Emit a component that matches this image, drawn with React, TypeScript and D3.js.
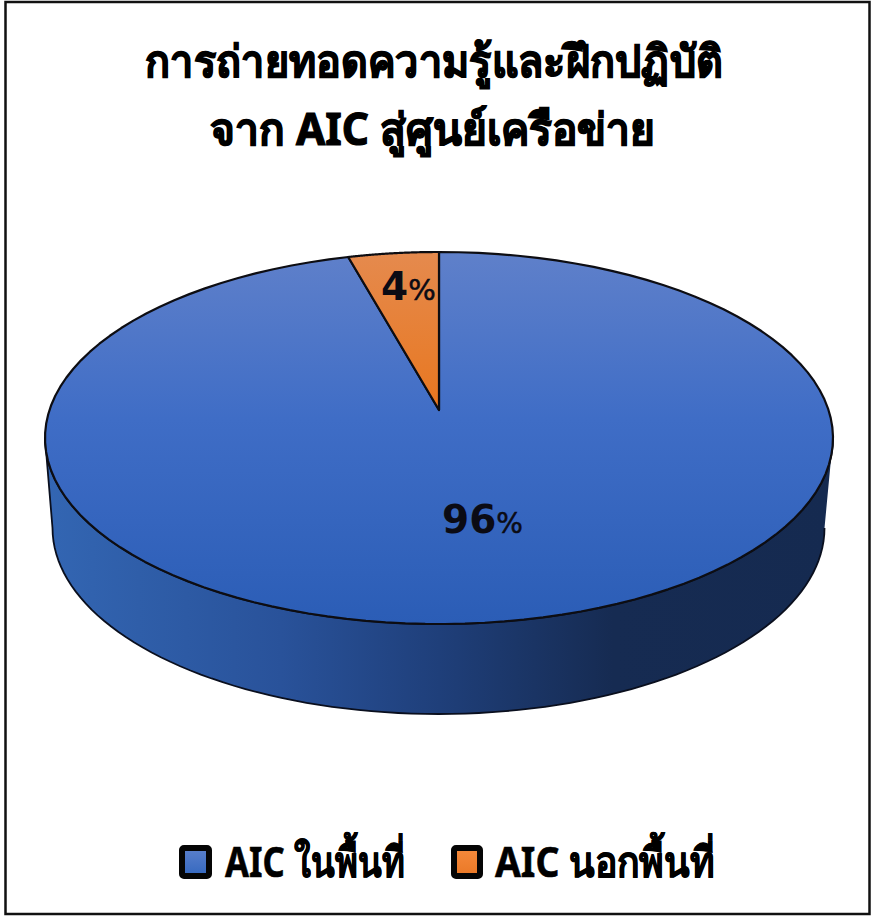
import React from "react";
import * as d3 from "d3";

const titleLines = ["การถ่ายทอดความรู้และฝึกปฏิบัติ", "จาก AIC สู่ศูนย์เครือข่าย"];
const categories = ["AIC ในพื้นที่", "AIC นอกพื้นที่"];
const values = [96.3, 3.7];
const fills = ["url(#blueTop)", "url(#orangeTop)"];
const swatches = ["url(#blueSwatch)", "url(#orangeSwatch)"];

const W = 871, H = 918;
const cx = 439, cy = 438, rx = 394, ry = 186;
const apex: [number, number] = [439, 410];
const depth = 90, bcx = 438.5, brx = 386;

const pt = (t: number, ccx = cx, ccy = cy, rrx = rx): [number, number] => [ccx + rrx * Math.sin(t), ccy - ry * Math.cos(t)];
const line = d3.line();
const arcPts = (a: number, b: number) => d3.range(0, 121).map((i) => pt(a + ((b - a) * i) / 120));

export default function App() {
  const arcs = d3.pie<number>().sort(null)(values);
  const sidePts = d3.range(-90, 90.5, 2).map((d) => pt((Math.PI * (180 - d)) / 180, bcx, cy + depth, brx));
  const topLower = d3.range(-90, 90.5, 2).map((d) => pt((Math.PI * (180 + d)) / 180));
  const side = line([...topLower, ...sidePts]);
  const labelPos: [number, number][] = [[442, 533], [381, 300]];
  return (
    <svg width={W} height={H} style={{ position: "absolute", left: 0, top: 0, background: "#fff" }}>
      <defs>
        <linearGradient id="blueTop" x1="0" y1="0" x2="0" y2="1">
          <stop offset="0" stopColor="#5f80ca" />
          <stop offset="0.45" stopColor="#3f6dc6" />
          <stop offset="1" stopColor="#2b5db6" />
        </linearGradient>
        <linearGradient id="orangeTop" x1="0" y1="0" x2="0" y2="1">
          <stop offset="0" stopColor="#e58a4e" />
          <stop offset="1" stopColor="#e8771f" />
        </linearGradient>
        <linearGradient id="sideGrad" x1="0" y1="0" x2="1" y2="0">
          <stop offset="0" stopColor="#3366b3" />
          <stop offset="0.3" stopColor="#29529a" />
          <stop offset="0.5" stopColor="#1f3f7a" />
          <stop offset="0.72" stopColor="#162b52" />
          <stop offset="1" stopColor="#152a50" />
        </linearGradient>
        <linearGradient id="blueSwatch" x1="0" y1="0" x2="0" y2="1">
          <stop offset="0" stopColor="#5b80cc" />
          <stop offset="1" stopColor="#3468bf" />
        </linearGradient>
        <linearGradient id="orangeSwatch" x1="0" y1="0" x2="0" y2="1">
          <stop offset="0" stopColor="#f58a3c" />
          <stop offset="1" stopColor="#ea7826" />
        </linearGradient>
      </defs>
      <rect x={5.5} y={2} width={864} height={912} fill="#fff" stroke="#111" strokeWidth={2.5} />
      {titleLines.map((t, i) => (
        <text key={i} x={[434, 432.5][i]} y={[77, 145][i]} textAnchor="middle" fontFamily="'Noto Sans', 'DejaVu Sans', sans-serif" fontWeight={700} fontSize={44} fill="#000" stroke="#000" strokeWidth={1.2}
          textLength={[578, 445][i]} lengthAdjust="spacingAndGlyphs">{t}</text>
      ))}
      <path d={side ?? ""} fill="url(#sideGrad)" stroke="#0a0f1e" strokeWidth={1.8} strokeLinejoin="round" />
      {arcs.map((a, i) => {
        const d = line([apex, ...arcPts(a.startAngle, a.endAngle)]) + "Z";
        return <path key={i} d={d} fill={fills[i]} stroke="#0d0d12" strokeWidth={2.2} strokeLinejoin="round" />;
      })}
      {arcs.map((a, i) => (
        <text key={i} x={labelPos[i][0]} y={labelPos[i][1]} fontFamily="'DejaVu Sans', sans-serif" fontSize={39} fontWeight={700} fill="#0b0b14">
          {Math.round(a.data)}<tspan fontWeight={400} fontSize={i === 0 ? 28 : 29} stroke="#0b0b14" strokeWidth={0.5}>%</tspan>
        </text>
      ))}
      {categories.map((c, i) => (
        <g key={i}>
          <rect x={[182, 454][i]} y={848} width={[27, 26][i]} height={28} rx={2} fill={swatches[i]} stroke="#050505" strokeWidth={6} />
          <text x={[225, 495][i]} y={877} fontFamily="'Noto Sans', 'DejaVu Sans', sans-serif" fontWeight={700} fontSize={42} fill="#000" stroke="#000" strokeWidth={0.6}
            textLength={[180, 220][i]} lengthAdjust="spacingAndGlyphs">{c}</text>
        </g>
      ))}
    </svg>
  );
}
